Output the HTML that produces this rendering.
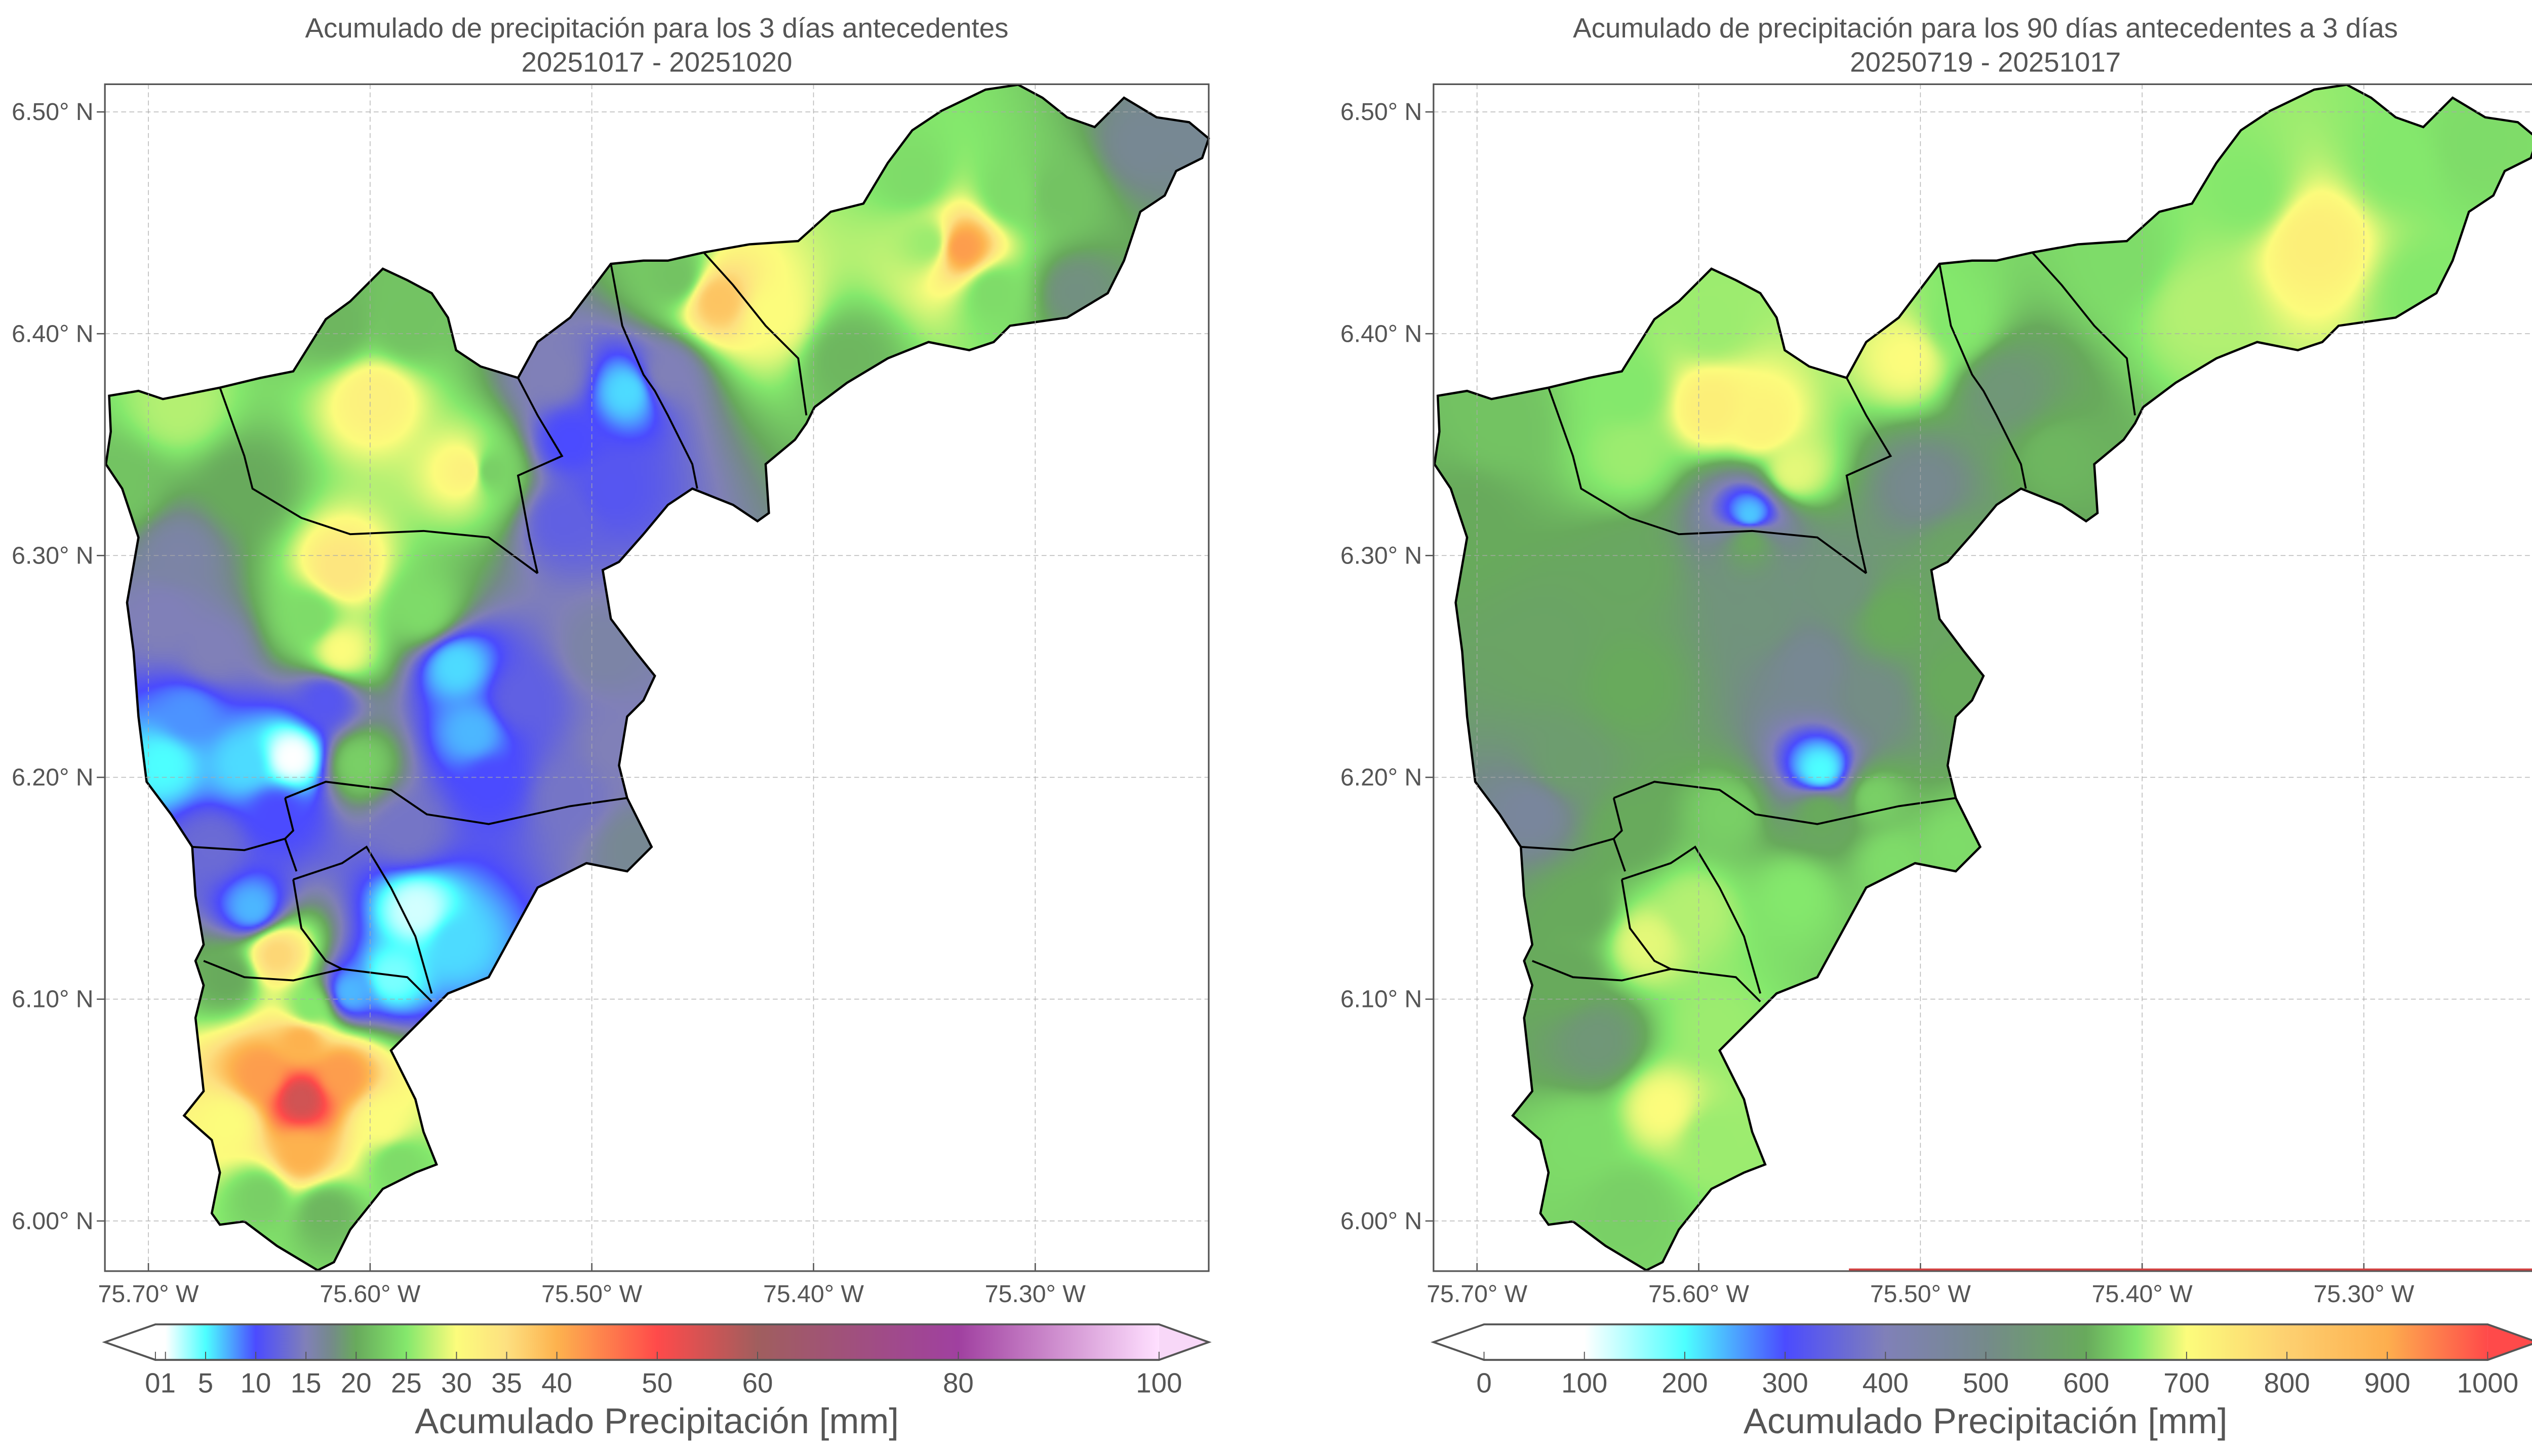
<!DOCTYPE html>
<html><head><meta charset="utf-8"><style>
html,body{margin:0;padding:0;background:#fff}
#wrap{position:relative;width:5044px;height:2876px}
#field,#chart{position:absolute;left:0;top:0;display:block}
text{font-family:"Liberation Sans",sans-serif;fill:#555}
</style></head><body>
<div id="wrap">
<canvas id="field" width="5044" height="2876"></canvas>
<svg id="chart" xmlns="http://www.w3.org/2000/svg" width="5044" height="2876" viewBox="0 0 1568 894">
<defs id="defs"></defs>
<g id="root"></g>
</svg>
</div>
<script>
// ---- data ----
const latTicks=[6.50,6.40,6.30,6.20,6.10,6.00];
const lonTicks=[-75.70,-75.60,-75.50,-75.40,-75.30];
const cbTicksL=[0,1,5,10,15,20,25,30,35,40,50,60,80,100];
const cbLabelsL=["0","1","5","10","15","20","25","30","35","40","50","60","80","100"];
const cbTicksR=[0,100,200,300,400,500,600,700,800,900,1000];
const stopValsL=[0,1,5,10,15,17.5,20,25,30,35,40,50,60,80,100];
const stopColsL=["#ffffff","#ffffff","#4dffff","#4b4bff","#8080b8","#758a8a","#68aa5c","#84e86c","#fcfc7c","#fde080","#fdb24e","#ff4a4a","#a05e5e","#a040a0","#ffe0ff"];
const stopValsR=[0,100,200,300,400,500,600,650,700,800,900,1000];
const stopColsR=["#ffffff","#ffffff","#4dffff","#4b4bff","#8080b8","#758a8a","#68aa5c","#84e86c","#fcfc7c","#fdd070","#fdae4e","#ff4a4a"];
// left panel stations: lon, lat, 3-day accumulation (mm)
const stLonL=[-75.333,-75.355,-75.289,-75.252,-75.230,-75.282,-75.385,-75.418,-75.443,-75.462,-75.466,-75.484,-75.510,-75.517,-75.513,-75.491,-75.546,-75.556,-75.598,-75.583,-75.616,-75.686,-75.712,-75.657,-75.686,-75.693,-75.613,-75.627,-75.613,-75.576,-75.671,-75.682,-75.693,-75.657,-75.635,-75.620,-75.605,-75.561,-75.554,-75.532,-75.495,-75.488,-75.510,-75.480,-75.546,-75.642,-75.653,-75.671,-75.579,-75.590,-75.609,-75.561,-75.642,-75.664,-75.631,-75.649,-75.613,-75.631,-75.631,-75.664,-75.594,-75.627,-75.620,-75.649,-75.587,-75.583,-75.319,-75.348,-75.311];
const stLatL=[6.439,6.470,6.463,6.485,6.488,6.419,6.389,6.408,6.415,6.426,6.382,6.374,6.352,6.382,6.316,6.330,6.338,6.338,6.371,6.404,6.404,6.367,6.330,6.330,6.301,6.272,6.294,6.272,6.257,6.275,6.257,6.228,6.206,6.206,6.209,6.235,6.206,6.250,6.220,6.235,6.257,6.213,6.191,6.169,6.198,6.184,6.141,6.169,6.140,6.110,6.103,6.125,6.120,6.110,6.055,6.066,6.066,6.081,6.030,6.044,6.044,6.096,6.004,6.011,6.026,6.176,6.419,6.441,6.463];
const stValL=[42,24,22,17,17,18,21,30,38,22,15,6,10,15,12,11,23,32,32,22,21,27,22,20,16,15,34,24,30,24,15,8,5,6,1,11,23,6,7,12,16,15,14,17,10,10,7,13,2,4,7,6,36,20,55,42,42,40,40,30,30,25,21,23,24,14,24,26,24];
// right panel stations: lon, lat, 90-day accumulation (mm)
const stLonR=[-75.322,-75.285,-75.249,-75.352,-75.374,-75.410,-75.271,-75.462,-75.440,-75.484,-75.506,-75.499,-75.484,-75.572,-75.594,-75.557,-75.631,-75.594,-75.631,-75.690,-75.704,-75.577,-75.577,-75.631,-75.668,-75.631,-75.572,-75.550,-75.521,-75.535,-75.513,-75.484,-75.675,-75.660,-75.545,-75.545,-75.631,-75.587,-75.521,-75.484,-75.653,-75.624,-75.602,-75.557,-75.513,-75.646,-75.660,-75.616,-75.594,-75.653,-75.631,-75.594];
const stLatR=[6.441,6.477,6.485,6.463,6.411,6.433,6.419,6.374,6.345,6.404,6.389,6.330,6.301,6.360,6.367,6.338,6.345,6.404,6.374,6.360,6.316,6.318,6.307,6.294,6.257,6.242,6.272,6.250,6.235,6.286,6.272,6.242,6.184,6.206,6.203,6.184,6.176,6.184,6.191,6.169,6.140,6.125,6.140,6.147,6.162,6.081,6.110,6.051,6.088,6.037,6.007,6.037];
const stValR=[730,650,640,650,670,640,650,540,610,650,700,490,580,720,730,690,660,660,650,620,600,230,590,590,580,600,530,480,510,530,600,600,460,560,200,600,600,630,630,640,600,690,670,650,640,540,600,700,660,640,630,660];

const NS="http://www.w3.org/2000/svg";
const root=document.getElementById('root'),defs=document.getElementById('defs');
function mk(t,a,p){const e=document.createElementNS(NS,t);for(const k in a)e.setAttribute(k,a[k]);(p||root).appendChild(e);return e;}
function hex(c){return [1,3,5].map(i=>parseInt(c.substr(i,2),16));}
function cmapA(v,vals,cols){if(v<=vals[0])return hex(cols[0]);for(let i=1;i<vals.length;i++){if(v<=vals[i]){const t=(v-vals[i-1])/(vals[i]-vals[i-1]);const a=hex(cols[i-1]),b=hex(cols[i]);return a.map((x,j)=>Math.round(x+(b[j]-x)*t));}}return hex(cols[cols.length-1]);}
function cmap(v,vals,cols){return 'rgb('+cmapA(v,vals,cols).join(',')+')';}
const X0=91.1,DX=1361,Y0=68.7,DY=1362,S=5044/1568;
function px(lon,off){return off+X0+(lon+75.70)*DX;}
function py(lat){return Y0+(6.50-lat)*DY;}
const outline=[[67,243],[85,240],[100,245],[135,238],[160,232],[180,228],[200,196],[215,185],[235,165],[250,172],[265,180],[275,195],[280,215],[295,225],[318,232],[330,210],[350,195],[375,162],[395,160],[410,160],[432,155],[460,150],[490,148],[510,130],[530,125],[545,100],[560,80],[578,68],[605,55],[625,52],[640,60],[655,72],[672,78],[690,60],[710,72],[730,75],[742,85],[738,97],[722,105],[715,120],[700,130],[690,160],[680,180],[655,195],[620,200],[610,210],[595,215],[570,210],[545,220],[520,235],[500,250],[495,260],[488,270],[470,285],[472,315],[465,320],[450,310],[425,300],[410,310],[395,328],[380,345],[370,350],[375,380],[390,400],[402,415],[395,430],[385,440],[380,470],[385,490],[390,500],[400,520],[385,535],[360,530],[330,545],[300,600],[275,610],[265,620],[250,635],[240,645],[255,675],[260,695],[268,715],[255,720],[235,730],[215,755],[205,775],[195,780],[170,765],[150,750],[135,752],[130,745],[135,720],[130,700],[113,685],[125,670],[120,625],[125,605],[120,590],[125,580],[120,550],[118,520],[105,500],[90,480],[85,440],[82,400],[78,370],[85,330],[75,300],[65,285],[68,265]];
const inner=[
[[135,238],[150,280],[155,300],[185,318],[215,328],[260,326],[300,330],[330,352]],
[[318,232],[330,255],[345,280],[318,292],[325,330],[330,352]],
[[375,162],[382,200],[395,230],[402,240],[410,255],[425,285],[428,300]],
[[432,155],[450,175],[470,200],[490,220],[495,255]],
[[175,490],[200,480],[240,485],[262,500],[300,506],[350,495],[385,490]],
[[118,520],[150,522],[175,515],[182,535]],
[[175,490],[180,510],[175,515]],
[[180,540],[210,530],[225,520],[240,545],[255,575],[265,610]],
[[125,590],[150,600],[180,602],[210,595],[250,600],[265,615]],
[[180,540],[185,570],[200,590],[210,595]]];

const ctx=document.getElementById('field').getContext('2d');
function field(off,sLon,sLat,sVal,vals,cols){
  const fx=64.4+off,fy=51.7,fw=677.6,fh=728.8,st=4;
  const w=Math.ceil(fw*S/st),h=Math.ceil(fh*S/st);
  const c=document.createElement('canvas');c.width=w;c.height=h;
  const cx=c.getContext('2d'),img=cx.createImageData(w,h),d=img.data;
  const n=sLon.length,eps=0.002*0.002;
  for(let j=0;j<h;j++){const y=fy+(j+0.5)*st/S;const lat=6.50-(y-Y0)/DY;
    for(let i=0;i<w;i++){const x=fx+(i+0.5)*st/S;const lon=-75.70+(x-off-X0)/DX;
      let sw=0,sv=0;
      for(let k=0;k<n;k++){const dx=lon-sLon[k],dy=lat-sLat[k];const q=dx*dx+dy*dy+eps;const wt=1/(q*Math.sqrt(q)*Math.sqrt(Math.sqrt(q)));sw+=wt;sv+=wt*sVal[k];}
      const col=cmapA(sv/sw,vals,cols);const p=(j*w+i)*4;d[p]=col[0];d[p+1]=col[1];d[p+2]=col[2];d[p+3]=255;}}
  cx.putImageData(img,0,0);
  ctx.save();ctx.beginPath();
  outline.forEach((p,i)=>{const X=(p[0]+off)*S,Y=p[1]*S;i?ctx.lineTo(X,Y):ctx.moveTo(X,Y);});
  ctx.closePath();ctx.clip();ctx.imageSmoothingEnabled=true;
  ctx.drawImage(c,fx*S,fy*S,w*st,h*st);ctx.restore();
}

function panel(off,name,title1,title2,vals,cols,cbVals,cbLbl,lo,hi,overCol){
  const g=mk('g',{});
  const fx=64.4+off,fw=677.6,fy=51.7,fh=728.8;
  const t=mk('text',{x:fx+fw/2,y:23,'text-anchor':'middle','font-size':17},g);t.textContent=title1;
  
  const t2=mk('text',{x:fx+fw/2,y:44,'text-anchor':'middle','font-size':17},g);t2.textContent=title2;
  
  const ol=mk('polygon',{points:outline.map(p=>(p[0]+off)+','+p[1]).join(' '),fill:'none',stroke:'#000','stroke-width':1.4},g);
  
  inner.forEach(l=>{const b=mk('polyline',{points:l.map(p=>(p[0]+off)+','+p[1]).join(' '),fill:'none',stroke:'#000','stroke-width':1.2},g);
    });
  lonTicks.forEach(lon=>{const x=px(lon,off);
    const gl=mk('line',{x1:x,x2:x,y1:fy,y2:fy+fh,stroke:'#aaa','stroke-width':0.5,'stroke-dasharray':'3,2',opacity:0.8},g);
    
    mk('line',{x1:x,x2:x,y1:fy+fh,y2:fy+fh-5,stroke:'#555','stroke-width':0.8},g);
    const tl=mk('text',{x:x,y:fy+fh+19,'text-anchor':'middle','font-size':15},g);tl.textContent=Math.abs(lon).toFixed(2)+'° W';
    });
  latTicks.forEach(lat=>{const y=py(lat);
    const gl=mk('line',{x1:fx,x2:fx+fw,y1:y,y2:y,stroke:'#aaa','stroke-width':0.5,'stroke-dasharray':'3,2',opacity:0.8},g);
    
    mk('line',{x1:fx,x2:fx-5,y1:y,y2:y,stroke:'#555','stroke-width':0.8},g);
    const tl=mk('text',{x:fx-7,y:y+5,'text-anchor':'end','font-size':15},g);tl.textContent=lat.toFixed(2)+'° N';
    });
  const fr=mk('rect',{x:fx,y:fy,width:fw,height:fh,fill:'none',stroke:'#555','stroke-width':1},g);
  
  const cb=mk('g',{},g);
  const bx0=95.4+off,bx1=711.5+off,by0=813.2,by1=835,bm=(by0+by1)/2;
  function cx(v){return bx0+(v-lo)/(hi-lo)*(bx1-bx0);}
  const lg=mk('linearGradient',{id:'cb'+Math.round(off),x1:0,x2:1,y1:0,y2:0},defs);
  for(let k=0;k<=200;k++){const v=lo+(hi-lo)*k/200;mk('stop',{offset:k/200,'stop-color':cmap(v,vals,cols)},lg);}
  mk('polygon',{points:`${bx0},${by0} ${fx},${bm} ${bx0},${by1}`,fill:'#fff'},cb);
  mk('polygon',{points:`${bx1},${by0} ${fx+fw},${bm} ${bx1},${by1}`,fill:overCol},cb);
  mk('rect',{x:bx0,y:by0,width:bx1-bx0,height:by1-by0,fill:'url(#cb'+Math.round(off)+')'},cb);
  mk('polygon',{points:`${bx0},${by0} ${bx1},${by0} ${fx+fw},${bm} ${bx1},${by1} ${bx0},${by1} ${fx},${bm}`,fill:'none',stroke:'#555','stroke-width':1.2},cb);
  cbVals.forEach((v,i)=>{const x=cx(v);
    mk('line',{x1:x,x2:x,y1:by1,y2:by1-5,stroke:'#555','stroke-width':0.6},cb);
    if(!(hi===100&&v===1)){const tl=mk('text',{x:(v===0&&hi===100)?x+3:x,y:855,'text-anchor':'middle','font-size':17},cb);
      tl.textContent=(v===0&&hi===100)?'01':cbLbl[i];
      }});
  const ct=mk('text',{x:fx+fw/2,y:880,'text-anchor':'middle','font-size':22},cb);ct.textContent='Acumulado Precipitación [mm]';
  
}
field(0,stLonL,stLatL,stValL,stopValsL,stopColsL);
field(815.6,stLonR,stLatR,stValR,stopValsR,stopColsR);
panel(0,'left-map-3-days','Acumulado de precipitación para los 3 días antecedentes','20251017 - 20251020',stopValsL,stopColsL,cbTicksL,cbLabelsL,0,100,'#f8d8f8');
panel(815.6,'right-map-90-days','Acumulado de precipitación para los 90 días antecedentes a 3 días','20250719 - 20251017',stopValsR,stopColsR,cbTicksR,cbTicksR.map(String),0,1000,'#ff4a4a');
const rl=mk('line',{x1:1135,x2:1558,y1:779.5,y2:779.5,stroke:'#d04040','stroke-width':1.2});

</script>
</body></html>
